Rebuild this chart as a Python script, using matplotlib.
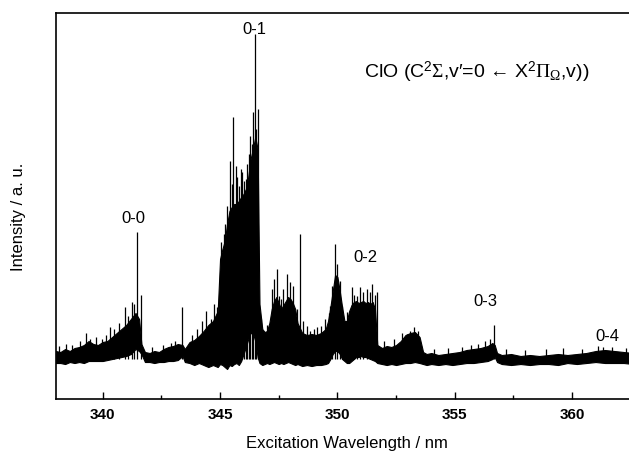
import numpy as np
import matplotlib
matplotlib.use("Agg")
import matplotlib.pyplot as plt

plt.rcParams['font.family'] = ['Liberation Sans', 'DejaVu Sans']
plt.rcParams['mathtext.fontset'] = 'custom'
plt.rcParams['mathtext.rm'] = 'Liberation Serif'
plt.rcParams['mathtext.it'] = 'Liberation Serif:italic'
plt.rcParams['mathtext.sf'] = 'Liberation Sans'

# spectrum envelope (wavelength nm, upper / lower edge, a.u.)
wl = [338.0, 338.2, 338.4, 338.6, 338.8, 339.0, 339.2, 339.4, 339.6, 339.8,
      340.0, 340.2, 340.4, 340.6, 340.8, 341.0, 341.2, 341.4, 341.55, 341.65,
      341.8, 342.0, 342.2, 342.4, 342.6, 342.8, 343.0, 343.2, 343.4, 343.5,
      343.7, 343.9, 344.1, 344.3, 344.5, 344.7, 344.9, 345.0, 345.1, 345.2,
      345.3, 345.4, 345.5, 345.6, 345.7, 345.8, 345.9, 346.0, 346.1, 346.2,
      346.3, 346.4, 346.5, 346.6, 346.68, 346.8, 346.9, 347.0, 347.1, 347.2,
      347.3, 347.4, 347.5, 347.6, 347.7, 347.8, 347.9, 348.0, 348.1, 348.2,
      348.3, 348.5, 348.7, 348.9, 349.1, 349.3, 349.5, 349.6, 349.7, 349.8,
      349.9, 350.0, 350.1, 350.2, 350.3, 350.4, 350.5, 350.6, 350.7, 350.8,
      350.9, 351.0, 351.1, 351.2, 351.3, 351.4, 351.5, 351.6, 351.7, 351.9,
      352.1, 352.3, 352.5, 352.7, 352.9, 353.1, 353.3, 353.5, 353.65, 353.8,
      354.0, 354.3, 354.6, 354.9, 355.2, 355.5, 355.8, 356.1, 356.4, 356.6,
      356.7, 356.8, 357.0, 357.4, 357.8, 358.2, 358.6, 359.0, 359.4, 359.8,
      360.2, 360.6, 361.0, 361.4, 361.8, 362.2, 362.6, 363.0]
hi = [48, 47, 50, 48, 51, 52, 54, 58, 55, 54,
      57, 58, 62, 66, 70, 74, 80, 86, 80, 55,
      47, 46, 48, 47, 50, 52, 53, 55, 54, 50,
      57, 59, 63, 68, 74, 78, 88, 140, 150, 158,
      175, 188, 192, 195, 195, 198, 202, 205, 210, 222,
      240, 250, 262, 250, 95, 70, 67, 68, 76, 90,
      98, 102, 96, 90, 94, 98, 102, 100, 96, 90,
      76, 66, 64, 65, 64, 66, 70, 78, 92, 108,
      124, 122, 108, 92, 78, 78, 88, 94, 97, 98,
      96, 97, 98, 96, 97, 95, 97, 90, 54, 51,
      53, 52, 54, 58, 64, 66, 67, 62, 47, 45,
      46, 44, 45, 46, 47, 49, 50, 51, 53, 56,
      54, 46, 44, 45, 43, 44, 43, 44, 45, 44,
      45, 46, 48, 49, 48, 47, 46, 45]
lo = [36, 36, 35, 37, 36, 37, 36, 38, 38, 38,
      38, 39, 40, 41, 42, 43, 45, 50, 48, 45,
      37, 37, 36, 37, 37, 38, 38, 39, 43, 37,
      36, 34, 36, 34, 32, 34, 32, 35, 34, 32,
      30, 34, 33, 35, 36, 34, 38, 45, 52, 60,
      66, 66, 58, 42, 36, 34, 35, 36, 35, 36,
      37, 36, 35, 36, 35, 36, 37, 36, 35, 34,
      35, 33, 34, 33, 34, 34, 35, 36, 40, 45,
      48, 48, 45, 40, 38, 36, 36, 38, 40, 42,
      42, 43, 42, 42, 41, 40, 39, 38, 36, 35,
      34, 35, 34, 35, 36, 36, 37, 36, 35, 34,
      35, 34, 35, 34, 35, 36, 36, 37, 38, 40,
      42, 37, 35, 34, 35, 34, 35, 35, 34, 36,
      35, 36, 37, 36, 36, 36, 35, 35]

# sharp rotational lines sticking out of the band
line_wl = [338.15, 338.45, 338.7, 339.05, 339.3, 339.45, 339.7, 339.95, 340.15,
           340.31, 340.5, 340.7, 340.94, 341.1, 341.24, 341.33, 341.48, 341.62,
           342.1, 342.55, 342.9, 343.1, 343.37, 343.8, 344.03, 344.25, 344.39,
           344.6, 344.74, 344.85,
           345.03, 345.15, 345.22, 345.31, 345.42, 345.5, 345.57, 345.67, 345.74,
           345.81, 345.88, 345.95, 346.02, 346.09, 346.16, 346.22, 346.28,
           346.34, 346.4, 346.48, 346.55, 346.63,
           346.75, 347.0, 347.22, 347.3, 347.41, 347.51, 347.6, 347.7, 347.84,
           347.98, 348.12, 348.27, 348.41, 348.55, 348.7, 348.85, 349.0, 349.15,
           349.29, 349.46, 349.62, 349.69, 349.79, 349.89, 350.0, 350.1, 350.21,
           350.4, 350.6, 350.72, 350.82, 350.96, 351.11, 351.25, 351.39, 351.49,
           351.58, 351.68, 352.0, 352.4, 352.75, 352.98, 353.1, 353.27, 353.45,
           354.1, 354.7, 355.3, 355.7, 356.0, 356.3, 356.5, 356.67, 357.2,
           358.0, 358.9, 359.6, 360.4, 361.1, 361.3, 361.7, 362.3]
line_top = [53, 55, 54, 58, 66, 60, 62, 60, 64,
            72, 70, 76, 92, 83, 97, 95, 167, 104,
            52, 54, 56, 58, 92, 64, 70, 78, 88,
            80, 95, 92,
            157, 165, 175, 193, 238, 215, 282, 233, 222,
            213, 230, 227, 218, 220, 235, 245, 263,
            255, 287, 365, 270, 290,
            80, 74, 110, 120, 130, 103, 100, 110, 125,
            117, 113, 90, 165, 78, 73, 68, 70, 72,
            73, 80, 86, 93, 113, 155, 135, 118, 93,
            87, 112, 104, 103, 112, 107, 110, 107, 115,
            104, 107, 58, 60, 66, 65, 68, 72, 68,
            50, 51, 52, 54, 55, 58, 60, 74, 50,
            49, 50, 51, 50, 53, 52, 52, 51]

band_labels = ['0-0', '0-1', '0-2', '0-3', '0-4']
band_label_x = [341.32, 346.48, 351.21, 356.32, 361.52]
band_label_y = [182, 371, 143, 99, 64]

fig = plt.figure(figsize=(6.29, 4.52), dpi=100)
ax = fig.add_axes([0.0886, 0.115, 0.933, 0.854])

ax.fill_between(wl, lo, hi, color='black', lw=0.8)
ax.vlines(line_wl, 40, line_top, color='black', lw=0.9)

for lab, x, y in zip(band_labels, band_label_x, band_label_y):
    ax.text(x, y, lab, ha='center', va='center', fontsize=12)

ax.text(351.15, 322,
        'ClO (C$^{\\mathsf{2}}\\Sigma$,v\u2032=0 \u2190 X$^{\\mathsf{2}}\\Pi_{\\Omega}$,v))',
        ha='left', va='baseline', fontsize=14)

ax.set_xlim(338, 363)
ax.set_ylim(0, 386)
ax.set_xticks([340, 345, 350, 355, 360])
ax.set_xticks([342.5, 347.5, 352.5, 357.5, 362.5], minor=True)
ax.set_yticks([])
ax.tick_params(axis='x', which='both', direction='in', pad=6)
ax.tick_params(axis='x', which='major', length=5, width=1)
ax.tick_params(axis='x', which='minor', length=3, width=1)
for lbl in ax.get_xticklabels():
    lbl.set_fontweight('bold')
    lbl.set_fontsize(11)
for s in ax.spines.values():
    s.set_linewidth(1.2)

ax.set_xlabel('Excitation Wavelength / nm', fontsize=12)
ax.xaxis.set_label_coords(0.496, -0.093)
ax.set_ylabel('Intensity / a. u.', fontsize=12)
ax.yaxis.set_label_coords(-0.051, 0.474)

fig.savefig('out.png', dpi=100)
